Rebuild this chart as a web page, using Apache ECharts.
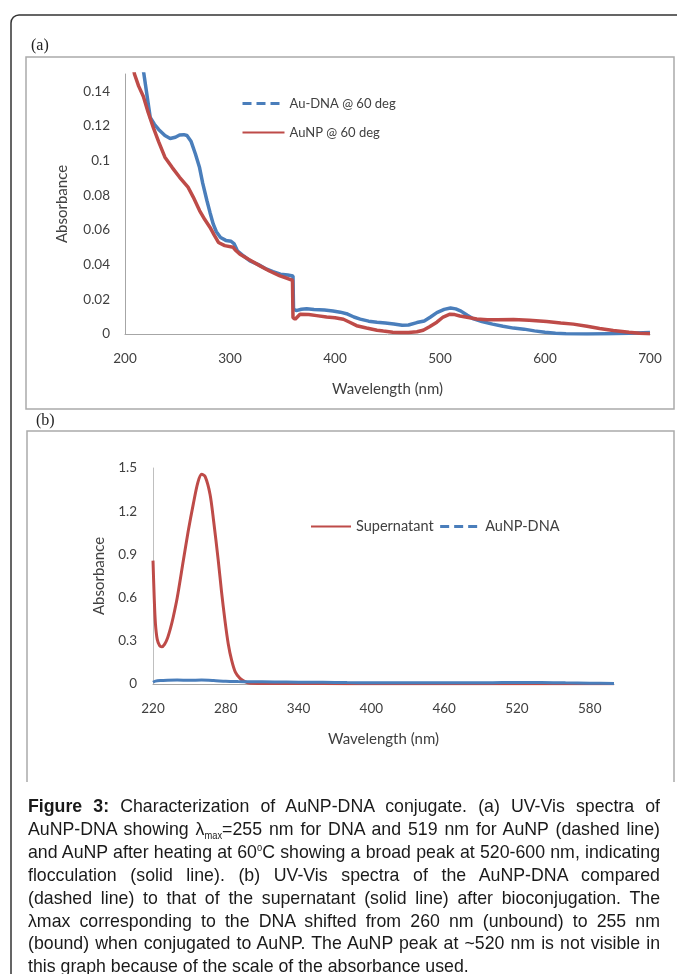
<!DOCTYPE html>
<html>
<head>
<meta charset="utf-8">
<script src="https://cdn.jsdelivr.net/npm/echarts@6/dist/echarts.min.js"></script>
<style>
    body { margin: 0; background: #fff; }
    #chart { position: absolute; left: 0; top: 0; width: 677px; height: 974px; }
    #caption {
        position: absolute; left: 28px; top: 795px; width: 632px;
        transform-origin: 0 0;
        font-family: "Liberation Sans", Arial, sans-serif;
        font-size: 19px; line-height: 22.9px; color: #1a1a1a;
    }
    #caption div { text-align: justify; text-align-last: justify; }
    #caption div.last { text-align-last: left; }
    #caption sub { font-size: 10px; vertical-align: -4px; line-height: 0; }
    #caption sup { font-size: 10px; vertical-align: 7px; line-height: 0; }
</style>
</head>
<body>
<div id="chart"></div>
<div id="caption">
    <div><b>Figure 3:</b> Characterization of AuNP-DNA conjugate. (a) UV-Vis spectra of</div>
    <div>AuNP-DNA showing λ<sub>max</sub>=255 nm for DNA and 519 nm for AuNP (dashed line)</div>
    <div>and AuNP after heating at 60<sup>o</sup>C showing a broad peak at 520-600 nm, indicating</div>
    <div>flocculation (solid line). (b) UV-Vis spectra of the AuNP-DNA compared</div>
    <div>(dashed line) to that of the supernatant (solid line) after bioconjugation. The</div>
    <div>λmax corresponding to the DNA shifted from 260 nm (unbound) to 255 nm</div>
    <div>(bound) when conjugated to AuNP. The AuNP peak at ~520 nm is not visible in</div>
    <div class="last">this graph because of the scale of the absorbance used.</div>
</div>
<script>
// panel (a): spectra after heating at 60 deg
var auDnaWl = [212, 218, 224, 228, 232, 238, 243, 248, 252, 256, 259, 263, 267, 271, 274, 278, 281, 284, 287, 291,
    296, 301, 304, 307, 313, 319, 327, 335, 341, 348, 355, 360, 360.5, 363, 368, 373, 380, 390, 398, 405,
    411, 418, 424, 432, 440, 448, 456, 464, 470, 478, 485, 491, 497, 504, 510, 515, 520, 526, 532, 540,
    550, 560, 570, 580, 590, 600, 610, 620, 640, 660, 680, 700];
var auDnaAbs = [0.172, 0.150, 0.125, 0.121, 0.118, 0.1145, 0.1128, 0.1135, 0.1148, 0.1150, 0.1145, 0.111, 0.104, 0.096, 0.087, 0.077, 0.070, 0.0635, 0.059, 0.0557,
    0.054, 0.0535, 0.052, 0.048, 0.045, 0.0422, 0.040, 0.0374, 0.036, 0.0345, 0.034, 0.0335, 0.0145, 0.0135, 0.0143, 0.0146, 0.0142, 0.0138, 0.0133, 0.0126,
    0.0117, 0.0098, 0.0086, 0.0074, 0.0068, 0.0064, 0.0058, 0.0050, 0.0052, 0.0066, 0.0075, 0.0098, 0.0123, 0.0142, 0.0150, 0.0145, 0.0132, 0.0108, 0.0087, 0.0072,
    0.0057, 0.0045, 0.0034, 0.0028, 0.0018, 0.0010, 0.0004, 0.0001, 0.0000, 0.0002, 0.0004, 0.0008];

var aunpWl = [205, 209, 213, 217.5, 222, 227, 232, 238, 245, 252, 260, 265, 271, 276, 281, 285, 289, 295, 303, 305,
    309.5, 318, 328.6, 338, 347.6, 355, 359.5, 360, 362, 366.7, 375, 382.5, 392, 400, 408, 414, 420.6, 430, 440, 446,
    455, 462, 470, 478, 484, 490, 497, 503, 509.5, 514, 519, 527, 535, 545, 555, 570, 585, 601.6, 615, 627,
    640, 652, 665, 680, 690, 700];
var aunpAbs = [0.165, 0.150, 0.143, 0.137, 0.128, 0.119, 0.111, 0.102, 0.096, 0.0904, 0.0847, 0.079, 0.0712, 0.066, 0.0615, 0.057, 0.0528, 0.051, 0.050, 0.0485,
    0.046, 0.043, 0.0393, 0.0362, 0.0335, 0.032, 0.031, 0.0095, 0.0085, 0.0114, 0.0112, 0.0106, 0.0098, 0.0094, 0.0085, 0.0068, 0.0048, 0.0035, 0.0022, 0.0017,
    0.0010, 0.0008, 0.0009, 0.0013, 0.0022, 0.0042, 0.0068, 0.0098, 0.0114, 0.0112, 0.0104, 0.0095, 0.0086, 0.0082, 0.0082, 0.0083, 0.0080, 0.0072, 0.0064, 0.0057,
    0.0045, 0.0032, 0.0020, 0.0010, 0.0004, 0.0002];

// panel (b): supernatant vs conjugate
var superWl = [220, 221, 222, 223.5, 225.5, 227.2, 229.5, 232, 234.5, 236.7, 240, 245, 249, 253.2, 257, 260.1, 263, 267, 270, 273.8,
    276.5, 279.3, 282, 284.8, 288, 291.7, 295.8, 300, 320, 360, 400, 450, 500, 550, 600];
var superAbs = [0.857, 0.60, 0.42, 0.31, 0.265, 0.258, 0.275, 0.32, 0.39, 0.465, 0.60, 0.857, 1.06, 1.249, 1.40, 1.456, 1.44, 1.318, 1.13, 0.857,
    0.64, 0.442, 0.28, 0.166, 0.08, 0.039, 0.016, 0.006, 0.004, 0.003, 0.002, 0.002, 0.002, 0.002, 0.002];

var conjWl = [220, 222, 226, 232, 240, 250, 260, 270, 280, 290, 300, 320, 340, 360, 380, 400, 440, 480, 500, 520, 540, 560, 580, 600];
var conjAbs = [0.012, 0.020, 0.024, 0.026, 0.027, 0.026, 0.027, 0.024, 0.019, 0.017, 0.016, 0.014, 0.013, 0.012, 0.010, 0.009, 0.008, 0.008, 0.009, 0.011, 0.010, 0.008, 0.006, 0.004];

var blue = '#4A7EBB';
var red = '#BE4B48';
var txt = '#404040';
var font = 'Lato, "Open Sans", sans-serif';

function zip(xs, ys) {
    return xs.map(function (x, i) { return [x, ys[i]]; });
}

// squeeze the caption a bit so the widest line fits, like the condensed print font
(function fitCaption() {
    var cap = document.getElementById('caption');
    var rows = cap.querySelectorAll('div');
    var widest = 0;
    var spans = [];
    rows.forEach(function (d) {
        var s = document.createElement('span');
        s.innerHTML = d.innerHTML;
        s.style.whiteSpace = 'nowrap';
        d.innerHTML = '';
        d.appendChild(s);
        spans.push(s);
        widest = Math.max(widest, s.getBoundingClientRect().width);
    });
    var k = Math.min(1, 628 / widest);
    cap.style.width = (632 / k) + 'px';
    cap.style.transform = 'scaleX(' + k + ')';
    spans.forEach(function (s) { s.style.whiteSpace = 'normal'; });
})();

var chart = echarts.init(document.getElementById('chart'), null, {renderer: 'canvas'});

var axisCommon = {
    axisLine: {lineStyle: {color: '#A6A6A6', width: 1}},
    axisTick: {show: false},
    splitLine: {show: false},
    nameTextStyle: {color: txt, fontSize: 15, fontFamily: font},
    axisLabel: {color: txt, fontSize: 13.5, fontFamily: font}
};

function axis(extra) {
    return echarts.util.merge(echarts.util.clone(axisCommon), extra, true);
}

chart.setOption({
    backgroundColor: '#fff',
    animation: false,
    graphic: [
        {type: 'rect', shape: {x: 11, y: 15, width: 720, height: 1000, r: 8}, style: {fill: 'none', stroke: '#333', lineWidth: 1.5}},
        {type: 'rect', shape: {x: 26, y: 57, width: 648, height: 352}, style: {fill: 'none', stroke: '#AAAAAA', lineWidth: 1.5}},
        {type: 'polyline', shape: {points: [[27, 782], [27, 431], [674, 431], [674, 782]]}, style: {fill: 'none', stroke: '#AAAAAA', lineWidth: 1.5}},
        {type: 'text', x: 31, y: 38, style: {text: '(a)', font: '16px "Liberation Serif", serif', fill: '#222'}},
        {type: 'text', x: 36, y: 413, style: {text: '(b)', font: '16px "Liberation Serif", serif', fill: '#222'}}
    ],
    legend: [
        {
            orient: 'vertical', left: 241, top: 97, padding: 0, itemWidth: 42, itemHeight: 14, itemGap: 16,
            itemStyle: {opacity: 0},
            textStyle: {color: txt, fontSize: 13, fontFamily: font},
            data: [
                {name: 'Au-DNA @ 60 deg', lineStyle: {type: [9, 5], width: 3, color: blue}},
                {name: 'AuNP @ 60 deg'}
            ]
        },
        {
            orient: 'horizontal', left: 310, top: 519, padding: 0, itemWidth: 40, itemHeight: 14, itemGap: 5,
            itemStyle: {opacity: 0},
            textStyle: {color: txt, fontSize: 14.5, fontFamily: font},
            data: [
                {name: 'Supernatant'},
                {name: 'AuNP-DNA', lineStyle: {type: [9, 5], width: 3, color: blue}}
            ]
        }
    ],
    grid: [
        {left: 125, top: 74, width: 525, height: 260},
        {left: 153, top: 468, width: 461, height: 216}
    ],
    xAxis: [
        axis({gridIndex: 0, type: 'value', min: 200, max: 700, interval: 100,
            name: 'Wavelength (nm)', nameLocation: 'middle', nameGap: 48,
            axisLabel: {margin: 18}}),
        axis({gridIndex: 1, type: 'value', min: 220, max: 600, interval: 60,
            name: 'Wavelength (nm)', nameLocation: 'middle', nameGap: 48,
            axisLabel: {margin: 18, showMaxLabel: false}})
    ],
    yAxis: [
        axis({gridIndex: 0, type: 'value', min: 0, max: 0.15, interval: 0.02,
            name: 'Absorbance', nameLocation: 'middle', nameGap: 55,
            axisLabel: {margin: 15, showMaxLabel: false}}),
        axis({gridIndex: 1, type: 'value', min: 0, max: 1.5, interval: 0.3,
            name: 'Absorbance', nameLocation: 'middle', nameGap: 46,
            axisLine: {lineStyle: {color: '#BFBFBF'}},
            axisLabel: {margin: 16}})
    ],
    series: [
        {name: 'Au-DNA @ 60 deg', type: 'line', xAxisIndex: 0, yAxisIndex: 0, symbol: 'none',
            lineStyle: {color: blue, width: 3.5}, itemStyle: {color: blue}, data: zip(auDnaWl, auDnaAbs)},
        {name: 'AuNP @ 60 deg', type: 'line', xAxisIndex: 0, yAxisIndex: 0, symbol: 'none',
            lineStyle: {color: red, width: 3.5}, itemStyle: {color: red}, data: zip(aunpWl, aunpAbs)},
        {name: 'Supernatant', type: 'line', xAxisIndex: 1, yAxisIndex: 1, symbol: 'none', smooth: 0.3,
            lineStyle: {color: red, width: 3}, itemStyle: {color: red}, data: zip(superWl, superAbs)},
        {name: 'AuNP-DNA', type: 'line', xAxisIndex: 1, yAxisIndex: 1, symbol: 'none', smooth: 0.3,
            lineStyle: {color: blue, width: 3}, itemStyle: {color: blue}, data: zip(conjWl, conjAbs)}
    ]
});
</script>
</body>
</html>
